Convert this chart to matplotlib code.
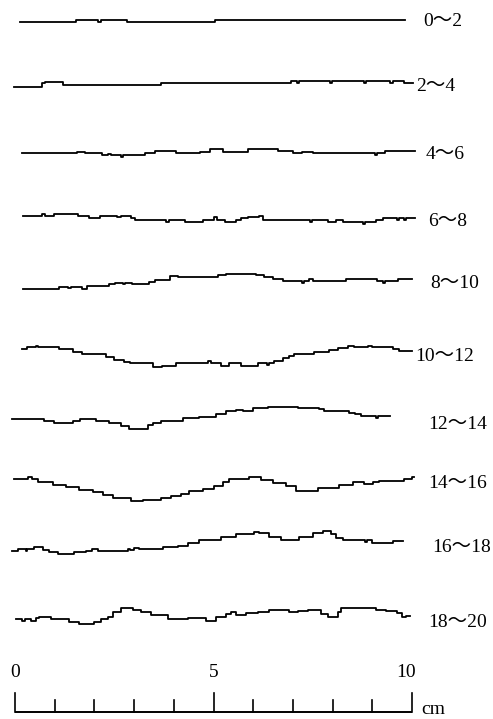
import matplotlib
matplotlib.use("Agg")
import matplotlib.pyplot as plt
import numpy as np

# depth ranges (labels on the right)
labels = ["0～2", "2～4", "4～6", "6～8", "8～10",
          "10～12", "12～14", "14～16", "16～18", "18～20"]

# each profile: x = start of every step (cm), z = relief (mm), last point closes the line
x_00_02 = [0.13, 1.54, 2.10, 2.16, 2.82, 5.04, 9.82]
z_00_02 = [-0.3, 0.2, -0.3, 0.2, -0.3, 0.25, 0.25]

x_02_04 = [-0.03, 0.67, 0.76, 1.22, 3.68, 6.95, 7.10, 7.16, 7.93, 7.99, 8.79, 8.85, 9.45, 9.52, 9.80, 10.03]
z_02_04 = [-0.8, 0.2, 0.45, -0.25, 0.25, 0.75, 0.25, 0.75, 0.25, 0.75, 0.25, 0.75, 0.2, 0.75, 0.2, 0.2]

x_04_06 = [0.17, 1.56, 1.76, 2.19, 2.34, 2.42, 2.67, 2.72, 3.27, 3.53, 4.06, 4.66, 4.91, 5.24,
           5.87, 6.62, 7.00, 7.23, 7.51, 9.07, 9.12, 9.32, 10.08]
z_04_06 = [-0.08, 0.33, -0.08, -0.5, -0.25, -0.5, -0.93, -0.5, -0.08, 0.5, -0.08, 0.33, 0.93, 0.33,
           0.93, 0.5, -0.08, 0.33, -0.08, -0.5, -0.08, 0.5, 0.5]

x_06_08 = [0.21, 0.67, 0.76, 0.98, 1.59, 1.86, 2.14, 2.57, 2.67, 2.92, 3.02, 3.80, 3.88, 4.28,
           4.74, 5.01, 5.09, 5.29, 5.57, 5.69, 5.87, 6.15, 6.25, 7.43, 7.48, 7.88, 8.09, 8.26,
           8.77, 8.82, 9.09, 9.27, 9.62, 9.67, 9.80, 9.85, 10.08]
z_06_08 = [0.5, 0.93, 0.5, 1.0, 0.58, 0.08, 0.58, 0.18, 0.58, 0.08, -0.5, -0.93, -0.5, -1.0,
           -0.5, 0.18, -0.5, -1.0, -0.5, 0.08, 0.33, 0.5, -0.5, -0.93, -0.5, -1.0, -0.5, -1.0,
           -1.43, -1.0, -0.5, 0.08, -0.5, 0.08, -0.5, 0.08, 0.08]

x_08_10 = [0.21, 1.11, 1.34, 1.41, 1.69, 1.81, 2.37, 2.52, 2.72, 2.77, 2.95, 3.38, 3.53, 3.90,
           4.11, 5.11, 5.31, 6.07, 6.27, 6.50, 6.75, 7.23, 7.28, 7.41, 7.51, 8.34, 9.12, 9.27,
           9.32, 9.65, 10.0]
z_08_10 = [-1.69, -1.18, -1.5, -1.18, -1.69, -1.08, -0.5, -0.18, -0.5, -0.18, -0.5, 0.08, 0.58, 1.44,
           1.18, 1.69, 2.09, 1.84, 1.18, 0.76, 0.18, -0.25, 0.18, 0.76, 0.18, 0.76, 0.33, -0.25,
           0.18, 0.76, 0.76]

x_10_12 = [0.18, 0.30, 0.53, 0.58, 1.11, 1.46, 1.69, 2.29, 2.49, 2.75, 2.90, 3.48, 3.70, 4.06,
           4.86, 4.94, 5.19, 5.39, 5.69, 6.12, 6.35, 6.40, 6.52, 6.75, 6.90, 7.03, 7.53, 7.91,
           8.14, 8.39, 8.54, 8.89, 8.99, 9.52, 9.67, 10.0]
z_10_12 = [1.44, 1.94, 2.34, 1.94, 1.44, 0.68, 0.18, -0.5, -1.26, -1.69, -2.09, -3.1, -2.7, -2.09,
           -1.59, -2.09, -2.7, -2.09, -2.7, -2.09, -2.5, -2.09, -1.51, -0.83, -0.33, 0.18, 0.83, 1.26,
           1.84, 2.27, 1.94, 2.34, 1.94, 1.51, 1.08, 1.08]

x_12_14 = [-0.07, 0.73, 0.98, 1.46, 1.64, 2.04, 2.37, 2.67, 2.87, 3.35, 3.48, 3.68, 4.23, 4.63,
           5.06, 5.31, 5.57, 5.74, 5.99, 6.37, 7.13, 7.66, 7.78, 8.04, 8.41, 8.56, 8.72, 9.09,
           9.14, 9.45]
z_12_14 = [0.18, -0.25, -0.76, -0.25, 0.25, -0.25, -0.68, -1.51, -2.19, -1.26, -0.83, -0.25, 0.43, 0.83,
           1.44, 2.27, 2.52, 2.34, 2.95, 3.35, 2.95, 2.7, 2.34, 2.27, 1.84, 1.44, 1.08, 0.58,
           1.08, 1.08]

x_14_16 = [-0.02, 0.33, 0.43, 0.58, 0.96, 1.28, 1.61, 1.96, 2.22, 2.47, 2.92, 3.22, 3.68, 3.93,
           4.18, 4.38, 4.74, 5.01, 5.24, 5.39, 5.89, 6.20, 6.50, 6.83, 7.08, 7.63, 8.16, 8.51,
           8.79, 9.02, 9.17, 9.80, 10.0, 10.05]
z_14_16 = [2.27, 2.77, 2.27, 1.51, 0.83, 0.18, -0.43, -1.01, -1.69, -2.52, -3.35, -2.95, -2.52, -2.09,
           -1.44, -0.83, -0.25, 0.43, 1.44, 2.27, 2.77, 2.09, 1.26, 0.43, -0.68, 0.0, 0.68, 1.44,
           1.0, 1.51, 1.84, 2.34, 2.77, 2.77]

x_16_18 = [-0.07, 0.08, 0.28, 0.30, 0.48, 0.71, 0.86, 1.08, 1.49, 1.79, 1.94, 2.09, 2.85, 2.90,
           3.00, 3.12, 3.73, 4.11, 4.36, 4.63, 5.19, 5.57, 6.02, 6.15, 6.40, 6.70, 7.15, 7.51,
           7.76, 7.96, 8.09, 8.26, 8.82, 8.87, 8.99, 9.52, 9.77]
z_16_18 = [-1.51, -1.01, -1.4, -1.01, -0.58, -1.26, -1.84, -2.34, -1.84, -1.44, -1.01, -1.44, -1.08, -1.26,
           -0.68, -1.01, -0.58, -0.18, 0.43, 1.26, 2.09, 2.7, 3.35, 2.95, 2.09, 1.26, 2.09, 2.95,
           3.53, 2.7, 1.84, 1.26, 0.68, 1.26, 0.43, 1.01, 1.01]

x_18_20 = [0.02, 0.17, 0.25, 0.40, 0.53, 0.60, 0.91, 1.36, 1.61, 1.99, 2.17, 2.34, 2.47, 2.67,
           2.97, 3.17, 3.43, 3.85, 4.36, 4.81, 5.06, 5.31, 5.44, 5.57, 5.82, 6.12, 6.40, 6.90,
           7.13, 7.38, 7.71, 7.88, 8.14, 8.21, 9.09, 9.35, 9.62, 9.75, 9.85, 9.95]
z_18_20 = [-1.01, -1.44, -1.01, -1.44, -0.83, -0.58, -1.01, -1.69, -2.27, -1.69, -1.08, -0.43, 0.83, 1.69,
           1.26, 0.68, 0.0, -1.01, -0.83, -1.44, -0.58, 0.25, 0.83, 0.0, 0.43, 0.68, 1.26, 0.68,
           1.01, 1.26, 0.25, -0.58, 0.76, 1.69, 1.26, 1.01, 0.43, -0.58, -0.18, -0.18]

profiles_x = [x_00_02, x_02_04, x_04_06, x_06_08, x_08_10,
              x_10_12, x_12_14, x_14_16, x_16_18, x_18_20]
profiles_z = [z_00_02, z_02_04, z_04_06, z_06_08, z_08_10,
              z_10_12, z_12_14, z_14_16, z_16_18, z_18_20]

scale_ticks = [0, 5, 10]

# layout (cm on the page)
baselines = [17.58, 16.0, 14.26, 12.62, 11.01, 9.17, 7.53, 5.82, 4.38, 2.62]
label_x = [10.28, 10.10, 10.35, 10.40, 10.45, 10.08, 10.40, 10.40, 10.50, 10.40]
label_y = [17.58, 15.94, 14.23, 12.52, 10.96, 9.12, 7.43, 5.94, 4.31, 2.42]

fam = ["Liberation Serif", "Noto Sans CJK SC", "DejaVu Sans"]
fs = 14

fig = plt.figure(figsize=(4.93, 7.19), dpi=100)
ax = fig.add_axes([0, 0, 1, 1])
ax.set_xlim(-15 / 39.7, 478 / 39.7)
ax.set_ylim(0, 719 / 39.7)
ax.axis("off")

for xs, zs, base, lab, lx, ly in zip(profiles_x, profiles_z, baselines, labels, label_x, label_y):
    ax.plot(xs, base + np.array(zs) / 10.0, drawstyle="steps-post", color="black", lw=1.3)
    ax.text(lx, ly, lab, family=fam, fontsize=fs, ha="left", va="center")

# scale bar
bar_y = 0.18
ax.plot([0, 10], [bar_y, bar_y], color="black", lw=1.4, solid_capstyle="butt")
for i in range(11):
    top = 0.66 if i % 5 == 0 else 0.48
    ax.plot([i, i], [bar_y, top], color="black", lw=1.2)
for t in scale_ticks:
    ax.text(t - 0.15 * (t == 10), 1.16, str(t), family=fam, fontsize=fs, ha="center", va="center")
ax.text(10.23, 0.23, "cm", family=fam, fontsize=fs, ha="left", va="center")

fig.savefig("out.png", dpi=100)
